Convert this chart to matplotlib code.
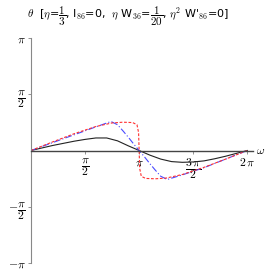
import numpy as np
import matplotlib
matplotlib.use('Agg')
from matplotlib import pyplot as plt

plt.rcParams['mathtext.fontset'] = 'cm'

# omega given in units of pi, theta in radians
omega_black = [0, 0.1, 0.2, 0.3, 0.4, 0.5, 0.6, 0.7, 0.8, 0.9, 1.0,
               1.1, 1.2, 1.3, 1.4, 1.5, 1.6, 1.7, 1.8, 1.9, 2.0]
theta_black = [0, 0.07, 0.14, 0.20, 0.26, 0.31, 0.35, 0.35, 0.27, 0.13, 0,
               -0.13, -0.24, -0.31, -0.33, -0.32, -0.29, -0.23, -0.16, -0.08, 0]

omega_blue = [0, 0.2, 0.4, 0.6, 0.74, 0.8, 0.85, 0.9, 0.95, 1.0,
              1.05, 1.1, 1.15, 1.2, 1.26, 1.4, 1.6, 1.8, 2.0]
theta_blue = [0, 0.22, 0.44, 0.66, 0.81, 0.72, 0.55, 0.37, 0.18, 0,
              -0.18, -0.37, -0.55, -0.72, -0.81, -0.68, -0.48, -0.24, 0]

omega_red = [0, 0.2, 0.4, 0.6, 0.75, 0.85, 0.94, 0.98, 0.995, 1.005,
             1.02, 1.06, 1.15, 1.25, 1.4, 1.6, 1.8, 2.0]
theta_red = [0, 0.24, 0.47, 0.67, 0.77, 0.79, 0.78, 0.72, 0.5, -0.5,
             -0.72, -0.78, -0.79, -0.77, -0.67, -0.47, -0.24, 0]

xticks = [np.pi / 2, np.pi, 3 * np.pi / 2, 2 * np.pi]
xtick_labels = [r'$\dfrac{\pi}{2}$', r'$\pi$', r'$\dfrac{3\,\pi}{2}$', r'$2\,\pi$']
yticks = [-np.pi, -np.pi / 2, np.pi / 2, np.pi]
ytick_labels = [r'$-\pi$', r'$-\dfrac{\pi}{2}$', r'$\dfrac{\pi}{2}$', r'$\pi$']


def main():
    fig = plt.figure(figsize=(2.73, 2.73), dpi=100)
    ax = fig.add_axes([31 / 273, 10 / 273, 222 / 273, 225 / 273])

    ax.plot(np.array(omega_black) * np.pi, theta_black, color='#222222', lw=0.8)
    ax.plot(np.array(omega_blue) * np.pi, theta_blue, color='#4a4aff', lw=0.8,
            dashes=(6, 2, 1, 2))
    ax.plot(np.array(omega_red) * np.pi, theta_red, color='#ff3030', lw=0.8,
            dashes=(2.5, 1.5))

    ax.set_xlim(0, 6.45)
    ax.set_ylim(-np.pi, np.pi)

    for s in ('top', 'right'):
        ax.spines[s].set_visible(False)
    ax.spines['bottom'].set_position(('data', 0))
    ax.spines['bottom'].set_color('#444444')
    ax.spines['left'].set_color('#888888')
    ax.spines['bottom'].set_linewidth(1.0)
    ax.spines['left'].set_linewidth(0.8)

    ax.set_xticks(xticks)
    ax.set_xticklabels(xtick_labels, fontsize=8.5)
    ax.set_yticks(yticks)
    ax.set_yticklabels(ytick_labels, fontsize=8.5)
    ax.tick_params(axis='both', length=2, width=0.5, pad=2, color='#666666')

    ax.text(6.55, 0, r'$\omega$', fontsize=8.5, va='center', ha='left')

    fig.text(27 / 273, 1 - 16 / 273,
             r"$\theta$  [$\eta$=$\dfrac{1}{3}$, I$_{86}$=0,  $\eta$ W$_{36}$=$\dfrac{1}{20}$, $\eta^2$ W'$_{86}$=0]",
             fontsize=8, va='center', ha='left')

    fig.savefig('out.png', dpi=100)


if __name__ == '__main__':
    main()
